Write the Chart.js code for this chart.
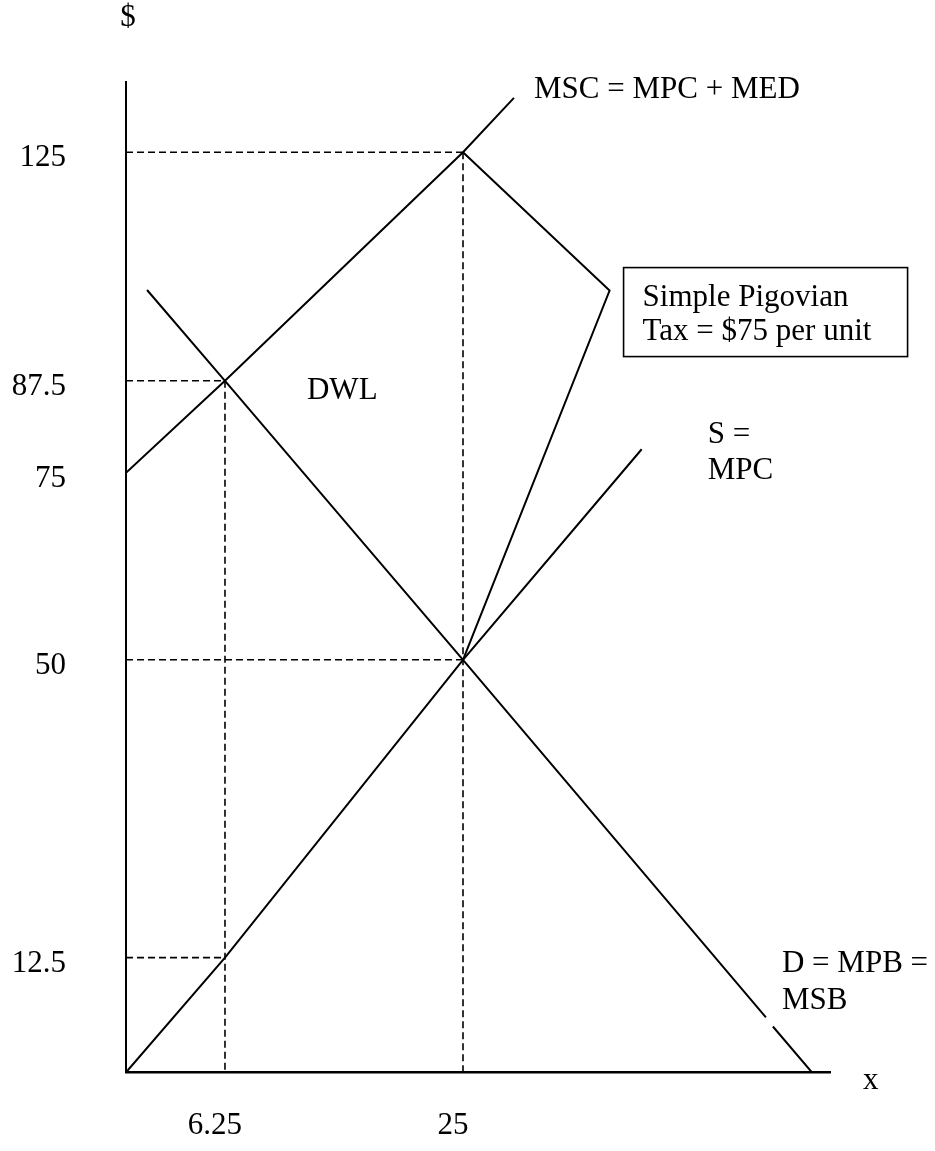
<!DOCTYPE html>
<html>
<head>
<meta charset="utf-8">
<script src="https://cdn.jsdelivr.net/npm/chart.js@4.4.1/dist/chart.umd.min.js"></script>
<style>
  html, body { margin: 0; padding: 0; background: #ffffff; }
  #wrap { position: relative; width: 935px; height: 1151px; }
</style>
</head>
<body>
<div id="wrap"><canvas id="c"></canvas></div>
<script>
// ---------------- data (economic units: quantity x, price $) ----------------
const mpcQ = [0, 6.25, 25, 37.8];            // S = MPC
const mpcP = [0, 12.5, 50, 78.2];
const mscQ = [0, 6.25, 25, 28.65];           // MSC = MPC + MED
const mscP = [75, 87.5, 125, 133.9];
const mpbQ = [1.33, 6.25, 25, 46.7, 46.9, 47.2, 50];   // D = MPB = MSB (gap near label)
const mpbP = [102.4, 87.5, 50, 6.0, null, 5.0, 0];
const taxQ = [25, 35.5, 25];                 // simple Pigovian tax kink
const taxP = [125, 102.3, 50];

const guidePrice = [125, 87.5, 50, 12.5];    // horizontal dashed guides
const guidePriceQ = [25, 6.25, 25, 6.25];
const guideQty = [6.25, 25];                 // vertical dashed guides
const guideQtyP = [87.5, 125];

const qTicks = [6.25, 25];
const qTickLabels = ['6.25', '25'];
const pTicks = [12.5, 50, 75, 87.5, 125];
const pTickLabels = ['12.5', '50', '75', '87.5', '125'];

// ---------------- non-uniform (hand-drawn) axis layout ----------------
const WARP = {
  x: [[0, 0], [6.25, 0.1406], [25, 0.4787], [50, 0.9744], [51.3, 1]],
  y: [[0, 0], [12.5, 0.1159], [50, 0.4166], [75, 0.6054], [87.5, 0.6983], [125, 0.9291], [136.5, 1]]
};
function pw(bp, v, a, b) {
  for (let i = 0; i < bp.length - 1; i++) {
    const p = bp[i], q = bp[i + 1];
    if (v <= q[a] || i === bp.length - 2) {
      return p[b] + (v - p[a]) * (q[b] - p[b]) / (q[a] - p[a]);
    }
  }
  return NaN;
}
class WarpScale extends Chart.LinearScale {
  getPixelForValue(value) {
    if (value === null || value === undefined || Number.isNaN(value)) return NaN;
    return this.getPixelForDecimal(pw(WARP[this.id], value, 0, 1));
  }
  getValueForPixel(pixel) {
    return pw(WARP[this.id], this.getDecimalForPixel(pixel), 1, 0);
  }
}
WarpScale.id = 'warp';
WarpScale.defaults = {};
Chart.register(WarpScale);

const zip = (xs, ys) => xs.map((x, i) => ({ x: x, y: ys[i] }));
const solid = (data) => ({ data, borderColor: '#000', borderWidth: 2, pointRadius: 0, showLine: true, tension: 0, spanGaps: false, fill: false });
const dashed = (data) => ({ data, borderColor: '#000', borderWidth: 1.6, borderDash: [7, 4], pointRadius: 0, showLine: true, tension: 0, fill: false });

const datasets = [];
guidePrice.forEach((p, i) => datasets.push(dashed([{ x: 0, y: p }, { x: guidePriceQ[i], y: p }])));
guideQty.forEach((q, i) => datasets.push(dashed([{ x: q, y: guideQtyP[i] }, { x: q, y: 0 }])));
datasets.push(solid(zip(mpcQ, mpcP)));
datasets.push(solid(zip(mscQ, mscP)));
datasets.push(solid(zip(mpbQ, mpbP)));
datasets.push(solid(zip(taxQ, taxP)));

const FONT = '"Liberation Serif", "Times New Roman", serif';

const notes = {
  id: 'notes',
  afterDraw(chart) {
    const { ctx, chartArea: ca, scales: { x, y } } = chart;
    const px = v => x.getPixelForValue(v), py = v => y.getPixelForValue(v);
    ctx.save();
    ctx.fillStyle = '#000';
    ctx.strokeStyle = '#000';
    ctx.font = '31px ' + FONT;
    ctx.textBaseline = 'alphabetic';

    // $ axis title
    ctx.textAlign = 'center';
    ctx.fillText('$', ca.left + 2, ca.top - 56);
    ctx.textAlign = 'left';

    // x axis title
    ctx.fillText('x', ca.right + 33, ca.bottom + 17);

    // MSC label
    const mx = px(mscQ[mscQ.length - 1]), my = py(mscP[mscP.length - 1]);
    ctx.fillText('MSC = MPC + MED', mx + 20, my);

    // Tax box
    const kx = px(taxQ[1]), ky = py(taxP[1]);
    const bl = kx + 14, bt = ky - 23;
    ctx.lineWidth = 1.6;
    ctx.strokeRect(bl, bt, 284, 89);
    ctx.fillText('Simple Pigovian', bl + 19, bt + 38);
    ctx.fillText('Tax = $75 per unit', bl + 19, bt + 72);

    // DWL
    ctx.fillText('DWL', px(6.25) + 82, py(87.5) + 18);

    // S = MPC
    const sx = px(mpcQ[mpcQ.length - 1]), sy = py(mpcP[mpcP.length - 1]);
    ctx.fillText('S =', sx + 66, sy - 6);
    ctx.fillText('MPC', sx + 66, sy + 30);

    // D = MPB = MSB
    const dx = px(mpbQ[mpbQ.length - 1]), dy = py(mpbP[mpbP.length - 1]);
    ctx.fillText('D = MPB =', dx - 30, dy - 100);
    ctx.fillText('MSB', dx - 30, dy - 63);

    ctx.restore();
  }
};

new Chart(document.getElementById('c'), {
  type: 'scatter',
  data: { datasets },
  options: {
    responsive: true,
    maintainAspectRatio: false,
    animation: false,
    events: [],
    layout: { padding: { top: 82, right: 105, left: 0, bottom: 0 } },
    plugins: { legend: { display: false }, tooltip: { enabled: false } },
    scales: {
      x: {
        type: 'warp', position: 'bottom', min: 0, max: 51.3,
        grid: { display: false, drawTicks: false },
        border: { display: true, color: '#000', width: 2.5 },
        afterBuildTicks: s => { s.ticks = qTicks.map(v => ({ value: v })); },
        afterFit: s => { s.height = 68; },
        ticks: {
          autoSkip: false, maxRotation: 0, padding: 35, labelOffset: -10, color: '#000',
          font: { family: FONT, size: 31 },
          callback: (v, i) => qTickLabels[i]
        }
      },
      y: {
        type: 'warp', position: 'left', min: 0, max: 136.5,
        grid: { display: false, drawTicks: false },
        border: { display: true, color: '#000', width: 2 },
        afterBuildTicks: s => { s.ticks = pTicks.map(v => ({ value: v })); },
        afterFit: s => { s.width = 126; },
        ticks: {
          autoSkip: false, padding: 60, labelOffset: 6, color: '#000',
          font: { family: FONT, size: 31 },
          callback: (v, i) => pTickLabels[i]
        }
      }
    }
  },
  plugins: [notes]
});
</script>
</body>
</html>
